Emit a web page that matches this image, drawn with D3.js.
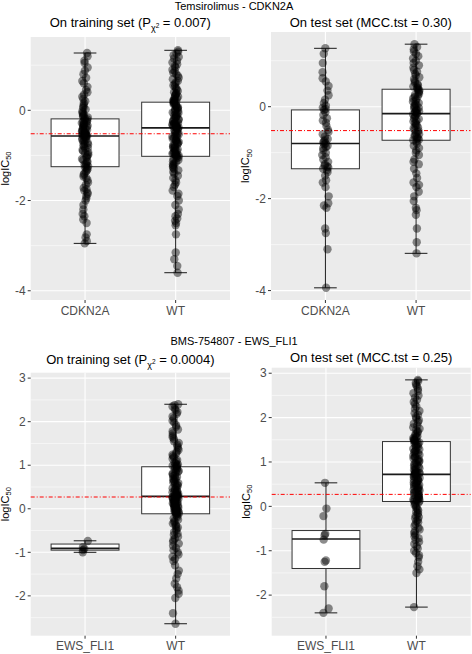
<!DOCTYPE html>
<html>
<head>
<meta charset="utf-8">
<script src="https://cdn.jsdelivr.net/npm/d3@7/dist/d3.min.js"></script>
<style>
  html, body { margin: 0; padding: 0; background: #ffffff; }
  svg { display: block; font-family: "Liberation Sans", Arial, sans-serif; }
</style>
</head>
<body>
<svg id="chart" width="472" height="654"></svg>
<script>
// ---------------- DATA ----------------
const drug1Title = "Temsirolimus - CDKN2A";
const drug2Title = "BMS-754807 - EWS_FLI1";
const drug1Cats = ["CDKN2A", "WT"];
const drug2Cats = ["EWS_FLI1", "WT"];
const drug1Ticks = [-4, -2, 0];
const drug2Ticks = [-2, -1, 0, 1, 2, 3];
const drug1RefLine = -0.52;
const drug2RefLine = 0.27;

// box stats: [lower whisker, Q1, median, Q3, upper whisker]
const temTrainBox = [[-2.95, -1.25, -0.57, -0.19, 1.27], [-3.60, -1.02, -0.39, 0.18, 1.33]];
const temTestBox  = [[-3.94, -1.35, -0.80, -0.07, 1.27], [-3.19, -0.73, -0.15, 0.38, 1.36]];
const bmsTrainBox = [[-1.00, -0.95, -0.91, -0.81, -0.735], [-2.64, -0.115, 0.285, 0.965, 2.40]];
const bmsTestBox  = [[-2.40, -1.40, -0.735, -0.545, 0.53], [-2.27, 0.11, 0.72, 1.46, 2.85]];

// individual logIC50 values
const temTrainCDKN2A = [1.27,1.2,1.1,1.05,0.95,0.88,0.8,0.72,0.65,0.6,0.52,0.45,0.4,0.35,0.3,0.25,0.2,0.16,0.12,0.08,0.05,0.02,-0.02,-0.05,-0.08,-0.1,-0.12,-0.14,-0.16,-0.18,
  -0.2,-0.22,-0.24,-0.25,-0.27,-0.28,-0.3,-0.31,-0.33,-0.34,-0.36,-0.37,-0.39,-0.4,-0.42,-0.43,-0.45,-0.46,-0.47,-0.49,-0.5,-0.51,-0.52,-0.53,-0.54,-0.55,-0.56,-0.56,-0.57,-0.57,
  -0.58,-0.6,-0.62,-0.64,-0.66,-0.68,-0.7,-0.72,-0.74,-0.76,-0.78,-0.8,-0.83,-0.85,-0.88,-0.9,-0.93,-0.95,-0.98,-1.0,-1.03,-1.05,-1.08,-1.1,-1.13,-1.15,-1.18,-1.2,-1.22,-1.24,
  -1.26,-1.28,-1.3,-1.33,-1.36,-1.4,-1.43,-1.47,-1.5,-1.55,-1.6,-1.65,-1.72,-1.75,-1.78,-1.82,-1.85,-1.9,-1.95,-2.0,-2.1,-2.2,-2.3,-2.35,-2.42,-2.5,-2.75,-2.82,-2.9,-2.95];
const temTrainWT = [1.33,1.3,1.26,1.22,1.18,1.15,1.1,1.06,1.02,0.98,0.95,0.9,0.87,0.83,0.8,0.76,0.72,0.69,0.65,0.62,0.58,0.55,0.52,0.49,0.46,0.43,0.4,0.38,0.36,0.34,0.32,0.3,0.28,0.26,0.24,0.22,0.21,0.2,0.19,0.18,
  0.17,0.15,0.14,0.12,0.1,0.09,0.07,0.05,0.04,0.02,0.0,-0.01,-0.03,-0.05,-0.06,-0.08,-0.1,-0.11,-0.13,-0.15,-0.16,-0.18,-0.2,-0.21,-0.23,-0.25,-0.26,-0.28,-0.29,-0.3,-0.31,-0.32,-0.33,-0.34,-0.35,-0.36,-0.37,-0.38,-0.38,-0.39,
  -0.4,-0.42,-0.44,-0.46,-0.48,-0.5,-0.51,-0.53,-0.55,-0.57,-0.58,-0.6,-0.62,-0.63,-0.65,-0.67,-0.68,-0.7,-0.72,-0.73,-0.75,-0.77,-0.78,-0.8,-0.82,-0.83,-0.85,-0.87,-0.88,-0.9,-0.92,-0.93,-0.95,-0.96,-0.97,-0.98,-0.99,-1.0,-1.01,-1.02,
  -1.04,-1.06,-1.08,-1.1,-1.13,-1.15,-1.18,-1.2,-1.22,-1.25,-1.28,-1.3,-1.33,-1.37,-1.4,-1.45,-1.5,-1.55,-1.6,-1.65,-1.7,-1.78,-1.85,-1.9,-2.0,-2.1,-2.2,-2.3,-2.35,-2.4,-2.45,-2.5,-2.55,-2.75,-3.15,-3.3,-3.45,-3.6];
const temTestCDKN2A = [1.27,1.15,0.95,0.75,0.62,0.55,0.45,0.35,0.25,0.15,0.08,0.02,-0.02,-0.05,-0.07,
  -0.12,-0.18,-0.25,-0.3,-0.35,-0.42,-0.5,-0.55,-0.6,-0.65,-0.7,-0.72,-0.75,-0.78,-0.8,
  -0.82,-0.85,-0.88,-0.9,-0.95,-1.0,-1.05,-1.1,-1.15,-1.2,-1.25,-1.28,-1.3,-1.32,-1.35,
  -1.38,-1.42,-1.5,-1.6,-1.65,-1.75,-1.95,-2.1,-2.15,-2.2,-2.65,-2.75,-3.1,-3.94];
const temTestWT = [1.36,1.3,1.25,1.2,1.15,1.1,1.05,1.0,0.95,0.9,0.85,0.8,0.76,0.72,0.68,0.64,0.6,0.56,0.52,0.49,0.46,0.44,0.42,0.4,0.38,
  0.36,0.33,0.31,0.28,0.26,0.23,0.21,0.18,0.16,0.13,0.11,0.08,0.06,0.04,0.02,0.0,-0.02,-0.04,-0.06,-0.08,-0.1,-0.11,-0.12,-0.14,-0.15,
  -0.17,-0.2,-0.22,-0.25,-0.27,-0.3,-0.32,-0.35,-0.37,-0.4,-0.42,-0.45,-0.47,-0.5,-0.52,-0.55,-0.57,-0.6,-0.62,-0.64,-0.66,-0.68,-0.7,-0.72,-0.73,
  -0.76,-0.8,-0.85,-0.9,-0.95,-1.0,-1.05,-1.15,-1.2,-1.25,-1.35,-1.45,-1.55,-1.65,-1.7,-1.75,-1.85,-1.95,-2.05,-2.2,-2.25,-2.35,-2.65,-2.95,-3.19];
const bmsTrainEWS = [-0.74,-0.88,-0.92,-0.95,-1.0];
const bmsTrainWT = [2.4,2.38,2.35,2.3,2.27,2.22,2.18,2.12,2.08,2.02,1.98,1.92,1.88,1.82,1.78,1.73,1.68,1.64,1.6,1.55,1.51,1.47,1.43,1.39,1.35,1.31,1.27,1.24,1.21,1.18,1.15,1.12,1.09,1.06,1.04,1.02,1.0,0.99,0.98,0.97,
  0.95,0.93,0.91,0.89,0.87,0.85,0.83,0.81,0.79,0.77,0.75,0.73,0.71,0.69,0.67,0.65,0.63,0.61,0.59,0.57,0.55,0.53,0.51,0.49,0.47,0.45,0.43,0.41,0.4,0.38,0.37,0.35,0.34,0.33,0.32,0.31,0.3,0.29,0.29,0.28,
  0.27,0.26,0.25,0.24,0.23,0.22,0.21,0.2,0.19,0.18,0.17,0.16,0.15,0.14,0.13,0.12,0.11,0.1,0.09,0.08,0.07,0.06,0.05,0.04,0.03,0.02,0.01,0.0,-0.01,-0.02,-0.03,-0.04,-0.05,-0.06,-0.07,-0.08,-0.09,-0.1,-0.11,-0.115,
  -0.13,-0.16,-0.19,-0.22,-0.25,-0.28,-0.31,-0.34,-0.37,-0.4,-0.43,-0.46,-0.5,-0.53,-0.57,-0.6,-0.64,-0.68,-0.72,-0.76,-0.8,-0.85,-0.9,-0.95,-1.0,-1.05,-1.1,-1.15,-1.2,-1.3,-1.42,-1.5,-1.6,-1.72,-1.8,-1.88,-1.95,-2.05,-2.4,-2.64];
const bmsTestEWS = [0.53,-0.05,-0.22,-0.62,-0.65,-0.75,-1.22,-1.25,-1.8,-2.3,-2.4];
const bmsTestWT = [2.85,2.82,2.78,2.74,2.7,2.65,2.6,2.55,2.5,2.45,2.4,2.35,2.3,2.25,2.2,2.15,2.1,2.06,2.02,1.98,1.94,1.9,1.86,1.82,1.78,1.75,1.72,1.69,1.66,1.63,1.6,1.58,1.56,1.54,1.52,1.5,1.49,1.48,1.47,1.46,
  1.44,1.42,1.4,1.38,1.36,1.34,1.32,1.3,1.28,1.26,1.24,1.22,1.2,1.18,1.16,1.14,1.12,1.1,1.08,1.06,1.04,1.02,1.0,0.98,0.96,0.94,0.92,0.9,0.88,0.86,0.84,0.82,0.8,0.78,0.77,0.76,0.75,0.74,0.73,0.72,
  0.7,0.68,0.67,0.65,0.64,0.62,0.6,0.59,0.57,0.56,0.54,0.52,0.51,0.49,0.48,0.46,0.44,0.43,0.41,0.4,0.38,0.36,0.35,0.33,0.32,0.3,0.28,0.27,0.25,0.24,0.22,0.2,0.19,0.17,0.16,0.15,0.14,0.13,0.12,0.11,
  0.09,0.06,0.03,0.0,-0.03,-0.06,-0.09,-0.12,-0.15,-0.18,-0.21,-0.24,-0.27,-0.3,-0.33,-0.36,-0.4,-0.44,-0.48,-0.52,-0.56,-0.6,-0.64,-0.68,-0.72,-0.76,-0.8,-0.85,-0.9,-0.95,-1.0,-1.05,-1.1,-1.15,-1.25,-1.35,-1.42,-1.5,-2.27];

// ---------------- DRAWING ----------------
const svg = d3.select("#chart");

function expandedDomain(arrays) {
  const all = arrays.flat();
  const ext = d3.extent(all);
  const pad = (ext[1] - ext[0]) * 0.05;
  return [ext[0] - pad, ext[1] + pad];
}

// deterministic pseudo-jitter in [-0.5, 0.5)
function jitterHash(j, i) {
  const s = Math.sin(j * 12.9898 + i * 78.233 + 1.7) * 43758.5453;
  return s - Math.floor(s) - 0.5;
}

function drawPanel(cfg) {
  const { x0, x1, y0, y1, cats, groups, boxes, domain, ticks, ref } = cfg;
  const g = svg.append("g");
  const x = d3.scalePoint().domain(cats).range([x0, x1]).padding(0.6);
  const y = d3.scaleLinear().domain(domain).range([y1, y0]);
  const step = x.step();

  g.append("rect").attr("x", x0).attr("y", y0).attr("width", x1 - x0).attr("height", y1 - y0)
    .attr("fill", "#EBEBEB");

  const tstep = ticks[1] - ticks[0];
  const minors = [];
  for (let v = ticks[0] - tstep / 2; v <= domain[1]; v += tstep) {
    if (v >= domain[0]) minors.push(v);
  }
  g.selectAll(".minor").data(minors).join("line")
    .attr("x1", x0).attr("x2", x1).attr("y1", d => y(d)).attr("y2", d => y(d))
    .attr("stroke", "#ffffff").attr("stroke-width", 0.55);
  g.selectAll(".major").data(ticks).join("line")
    .attr("x1", x0).attr("x2", x1).attr("y1", d => y(d)).attr("y2", d => y(d))
    .attr("stroke", "#ffffff").attr("stroke-width", 1.1);
  g.selectAll(".vmajor").data(cats).join("line")
    .attr("x1", d => x(d)).attr("x2", d => x(d)).attr("y1", y0).attr("y2", y1)
    .attr("stroke", "#ffffff").attr("stroke-width", 1.1);

  cats.forEach((c, i) => {
    const b = boxes[i];
    const cx = x(c);
    const hw = step * 0.25 / 2;
    g.append("line").attr("x1", cx).attr("x2", cx).attr("y1", y(b[0])).attr("y2", y(b[4]))
      .attr("stroke", "#1a1a1a").attr("stroke-width", 1);
    [b[0], b[4]].forEach(v => {
      g.append("line").attr("x1", cx - hw).attr("x2", cx + hw).attr("y1", y(v)).attr("y2", y(v))
        .attr("stroke", "#1a1a1a").attr("stroke-width", 1);
    });
    const bw = step * 0.75;
    g.append("rect").attr("x", cx - bw / 2).attr("y", y(b[3])).attr("width", bw)
      .attr("height", y(b[1]) - y(b[3]))
      .attr("fill", "#ffffff").attr("stroke", "#333333").attr("stroke-width", 1);
    g.append("line").attr("x1", cx - bw / 2).attr("x2", cx + bw / 2).attr("y1", y(b[2])).attr("y2", y(b[2]))
      .attr("stroke", "#1a1a1a").attr("stroke-width", 1.7);
  });

  g.append("line").attr("x1", x0).attr("x2", x1).attr("y1", y(ref)).attr("y2", y(ref))
    .attr("stroke", "#FF0000").attr("stroke-width", 1).attr("stroke-dasharray", "4,2,1,2");

  cats.forEach((c, i) => {
    const vals = groups[i];
    g.append("g").selectAll("circle").data(vals).join("circle")
      .attr("cx", (d, j) => x(c) + jitterHash(j, i + (cfg.seed || 0)) * 6.5)
      .attr("cy", d => y(d))
      .attr("r", 4.2)
      .attr("fill", "#000000").attr("fill-opacity", 0.45);
  });

  g.selectAll(".ytick").data(ticks).join("line")
    .attr("x1", x0 - 3).attr("x2", x0).attr("y1", d => y(d)).attr("y2", d => y(d))
    .attr("stroke", "#333333").attr("stroke-width", 1);
  g.selectAll(".ylab").data(ticks).join("text")
    .attr("x", x0 - 5).attr("y", d => y(d)).attr("dy", "0.35em")
    .attr("text-anchor", "end").attr("font-size", 12).attr("fill", "#4D4D4D")
    .text(d => d);
  g.selectAll(".xtick").data(cats).join("line")
    .attr("x1", d => x(d)).attr("x2", d => x(d)).attr("y1", y1).attr("y2", y1 + 3)
    .attr("stroke", "#333333").attr("stroke-width", 1);
  g.selectAll(".xlab").data(cats).join("text")
    .attr("x", d => x(d)).attr("y", y1 + 14.5)
    .attr("text-anchor", "middle").attr("font-size", 12).attr("fill", "#4D4D4D")
    .text(d => d);

  const yt = g.append("text")
    .attr("transform", `translate(${x0 - 22},${(y0 + y1) / 2}) rotate(-90)`)
    .attr("text-anchor", "middle").attr("font-size", 11).attr("fill", "#000");
  yt.append("tspan").text("logIC");
  yt.append("tspan").attr("font-size", 7.5).attr("dy", 2.5).text("50");

  const st = g.append("text").attr("x", (x0 + x1) / 2).attr("y", cfg.titleY)
    .attr("text-anchor", "middle").attr("font-size", 13).attr("fill", "#000");
  if (cfg.pval) {
    st.append("tspan").text("On training set (P");
    st.append("tspan").attr("font-size", 9).attr("dy", 4).text("χ");
    st.append("tspan").attr("font-size", 6.5).attr("dy", -3.5).text("2");
    st.append("tspan").attr("dy", -0.5).text(" = " + cfg.pval + ")");
  } else {
    st.text("On test set (MCC.tst = " + cfg.mcc + ")");
  }
}

const dom1 = expandedDomain([temTrainCDKN2A, temTrainWT, temTestCDKN2A, temTestWT]);
const dom2 = expandedDomain([bmsTrainEWS, bmsTrainWT, bmsTestEWS, bmsTestWT]);

svg.append("text").attr("x", 234).attr("y", 10).attr("text-anchor", "middle")
  .attr("font-size", 11).attr("fill", "#000").text(drug1Title);
svg.append("text").attr("x", 234).attr("y", 345).attr("text-anchor", "middle")
  .attr("font-size", 11).attr("fill", "#000").text(drug2Title);

drawPanel({ x0: 30.7, x1: 230, y0: 37, y1: 300, cats: drug1Cats, groups: [temTrainCDKN2A, temTrainWT],
  boxes: temTrainBox, domain: dom1, ticks: drug1Ticks, ref: drug1RefLine, titleY: 27, pval: "0.007", seed: 0 });
drawPanel({ x0: 271, x1: 470.5, y0: 32, y1: 300, cats: drug1Cats, groups: [temTestCDKN2A, temTestWT],
  boxes: temTestBox, domain: dom1, ticks: drug1Ticks, ref: drug1RefLine, titleY: 26.5, mcc: "0.30", seed: 3 });
drawPanel({ x0: 30.7, x1: 230, y0: 372.7, y1: 635.7, cats: drug2Cats, groups: [bmsTrainEWS, bmsTrainWT],
  boxes: bmsTrainBox, domain: dom2, ticks: drug2Ticks, ref: drug2RefLine, titleY: 363.5, pval: "0.0004", seed: 5 });
drawPanel({ x0: 271.7, x1: 470.7, y0: 367.7, y1: 635.7, cats: drug2Cats, groups: [bmsTestEWS, bmsTestWT],
  boxes: bmsTestBox, domain: dom2, ticks: drug2Ticks, ref: drug2RefLine, titleY: 362, mcc: "0.25", seed: 7 });
</script>
</body>
</html>
